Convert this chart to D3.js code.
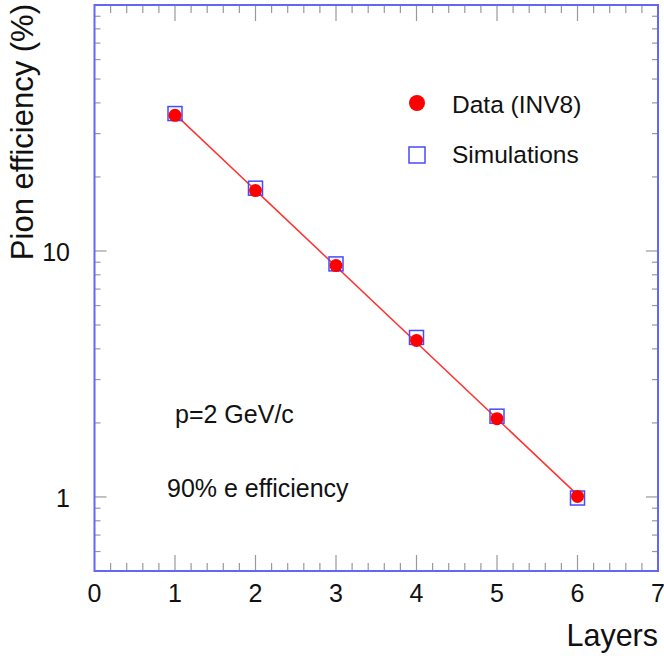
<!DOCTYPE html>
<html>
<head>
<meta charset="utf-8">
<script src="https://cdnjs.cloudflare.com/ajax/libs/d3/7.8.5/d3.min.js"></script>
<style>
  body { margin: 0; background: #fff; }
  text { font-family: "Liberation Sans", Arial, Helvetica, sans-serif; fill: #111; }
</style>
</head>
<body>
<svg id="chart" width="664" height="658"></svg>
<script>
// values
const layers = [1, 2, 3, 4, 5, 6];
const dataEff = [35.6, 17.6, 8.72, 4.33, 2.08, 1.005];
const simEff = [36.2, 18.0, 8.86, 4.45, 2.13, 0.99];
const fitLayers = [1, 6];
const fitEff = [36.0, 1.02];
const xTicks = [0, 1, 2, 3, 4, 5, 6, 7];
const yTicks = [1, 10];

const svg = d3.select("#chart");
const plotL = 94.5, plotR = 658, plotT = 5, plotB = 571;

const x = d3.scaleLinear().domain([0, 7]).range([plotL, plotR]);
const y = d3.scaleLog().domain([0.5, 100]).range([plotB, plotT]);

const tickColor = "#999";
const frameColor = "#6464ff";

// minor / major ticks, drawn inward on all four sides
const xMinor = d3.range(0, 7.001, 0.2).filter(v => Math.abs(v - Math.round(v)) > 1e-6);
const yMinor = [];
[0.1, 1, 10].forEach(dec => {
    for (let k = 2; k <= 9; k++) {
        const v = dec * k;
        if (v >= 0.5 && v <= 100) yMinor.push(v);
    }
});

const ticks = svg.append("g").attr("stroke", tickColor).attr("stroke-width", 1.2);

function xTick(vals, len) {
    ticks.selectAll(null).data(vals).enter().append("line")
        .attr("x1", d => x(d)).attr("x2", d => x(d))
        .attr("y1", plotB).attr("y2", plotB - len);
    ticks.selectAll(null).data(vals).enter().append("line")
        .attr("x1", d => x(d)).attr("x2", d => x(d))
        .attr("y1", plotT).attr("y2", plotT + len);
}
function yTick(vals, len) {
    ticks.selectAll(null).data(vals).enter().append("line")
        .attr("y1", d => y(d)).attr("y2", d => y(d))
        .attr("x1", plotL).attr("x2", plotL + len);
    ticks.selectAll(null).data(vals).enter().append("line")
        .attr("y1", d => y(d)).attr("y2", d => y(d))
        .attr("x1", plotR).attr("x2", plotR - len);
}
xTick(xMinor, 8);
xTick(xTicks.slice(1, -1), 16);
yTick(yMinor, 6);
yTick(yTicks, 12);

// frame
svg.append("rect")
    .attr("x", plotL).attr("y", plotT)
    .attr("width", plotR - plotL).attr("height", plotB - plotT)
    .attr("fill", "none")
    .attr("stroke", frameColor)
    .attr("stroke-width", 2);

// tick labels
svg.append("g").selectAll("text").data(xTicks).enter().append("text")
    .attr("x", d => x(d)).attr("y", 602)
    .attr("text-anchor", "middle")
    .style("font-size", "25px")
    .text(d => d);

svg.append("g").selectAll("text").data(yTicks).enter().append("text")
    .attr("x", 70).attr("y", d => y(d) + 10.5)
    .attr("text-anchor", "end")
    .style("font-size", "25px")
    .text(d => d);

// axis titles
svg.append("text")
    .attr("x", 658).attr("y", 646)
    .attr("text-anchor", "end")
    .style("font-size", "30.5px")
    .text("Layers");

svg.append("text")
    .attr("transform", "translate(33,4) rotate(-90)")
    .attr("text-anchor", "end")
    .style("font-size", "31px")
    .text("Pion efficiency (%)");

// fit line
svg.append("path")
    .datum(fitLayers.map((l, i) => [l, fitEff[i]]))
    .attr("fill", "none")
    .attr("stroke", "#ff3030")
    .attr("stroke-width", 1.5)
    .attr("d", d3.line().x(d => x(d[0])).y(d => y(d[1])));

// simulation squares
const sq = 14;
svg.append("g").selectAll("rect").data(layers).enter().append("rect")
    .attr("x", d => x(d) - sq / 2)
    .attr("y", (d, i) => y(simEff[i]) - sq / 2)
    .attr("width", sq).attr("height", sq)
    .attr("fill", "none")
    .attr("stroke", "#4848ff")
    .attr("stroke-width", 1.5);

// data circles
svg.append("g").selectAll("circle").data(layers).enter().append("circle")
    .attr("cx", d => x(d))
    .attr("cy", (d, i) => y(dataEff[i]))
    .attr("r", 6.5)
    .attr("fill", "#ff0000");

// legend
svg.append("circle").attr("cx", 417).attr("cy", 103).attr("r", 8).attr("fill", "#ff0000");
svg.append("text").attr("x", 452).attr("y", 113).style("font-size", "24.5px").text("Data (INV8)");
svg.append("rect").attr("x", 409).attr("y", 147).attr("width", 16).attr("height", 16)
    .attr("fill", "none").attr("stroke", "#4848ff").attr("stroke-width", 1.5);
svg.append("text").attr("x", 452).attr("y", 163).style("font-size", "24.5px").text("Simulations");

// annotations
svg.append("text").attr("x", 175).attr("y", 423).style("font-size", "25px").text("p=2 GeV/c");
svg.append("text").attr("x", 167).attr("y", 497).style("font-size", "25px").text("90% e efficiency");
</script>
</body>
</html>
